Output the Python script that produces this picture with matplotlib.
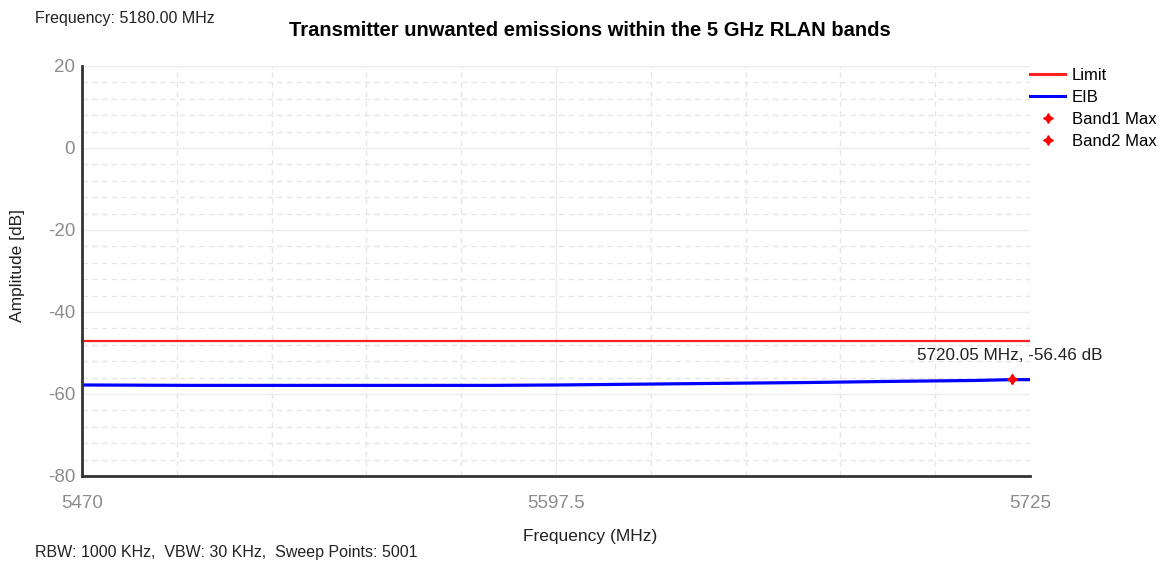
import numpy as np
import matplotlib
matplotlib.use("Agg")
from matplotlib import pyplot as plt
from matplotlib.ticker import FixedLocator

plt.rcParams['font.family'] = ['Liberation Sans', 'DejaVu Sans']
plt.rcParams['axes.unicode_minus'] = False

# data
freq_min, freq_max = 5470.0, 5725.0
amp_min, amp_max = -80, 20
limit_db = -47.0
eib_freq = [5470, 5500, 5530, 5555, 5580, 5598, 5620, 5642, 5665, 5690, 5710, 5720, 5725]
eib_db = [-57.8, -57.9, -57.9, -57.9, -57.9, -57.8, -57.6, -57.4, -57.2, -56.9, -56.7, -56.5, -56.5]
band1_max = (5720.05, -56.46)
band2_max = (5720.05, -56.46)
x_ticks = [5470, 5597.5, 5725]
y_ticks = [-80, -60, -40, -20, 0, 20]

fig = plt.figure(figsize=(11.65, 5.65), dpi=100)
ax = fig.add_axes([82 / 1165, 1 - 476 / 565, 948 / 1165, 410 / 565])

# grid: light solid majors, dashed minors
ax.xaxis.set_major_locator(FixedLocator(x_ticks))
ax.xaxis.set_minor_locator(FixedLocator(np.linspace(freq_min, freq_max, 11)))
ax.yaxis.set_major_locator(FixedLocator(y_ticks))
ax.yaxis.set_minor_locator(FixedLocator(np.arange(amp_min, amp_max + 1, 4)))
ax.grid(which='major', color='#ececec', lw=1.0, ls='-')
ax.grid(which='minor', color='#e6e6e6', lw=1.0, ls=(0, (4, 3)))
ax.set_axisbelow(True)

ax.plot([freq_min, freq_max], [limit_db, limit_db], color='#ff2020', lw=1.6,
        label='Limit')
ax.plot(eib_freq, eib_db, color='#0000ff', lw=2.3, label='EIB')
ax.plot(*band1_max, ls='none', marker=(4, 1, 0), ms=7, color='red',
        label='Band1 Max')
ax.plot(*band2_max, ls='none', marker=(4, 1, 0), ms=7, color='red',
        label='Band2 Max')
ax.annotate(f'{band2_max[0]:.2f} MHz, {band2_max[1]:.2f} dB',
            xy=band2_max, xytext=(-68, 17), textcoords='offset points',
            va='center', fontsize=12.3, color='#222222')

ax.set_xlim(freq_min, freq_max)
ax.set_ylim(amp_min, amp_max)
ax.set_xticklabels(['5470', '5597.5', '5725'])
ax.tick_params(which='both', length=0, labelsize=13.5, labelcolor='#8c8c8c')
ax.tick_params(axis='x', pad=14)
ax.tick_params(axis='y', pad=5)

for side in ['top', 'right']:
    ax.spines[side].set_visible(False)
for side in ['left', 'bottom']:
    ax.spines[side].set_color('#333333')
    ax.spines[side].set_linewidth(2.0)

leg = ax.legend(loc='upper left', bbox_to_anchor=(1.0, 0.995), frameon=False,
                fontsize=12, handlelength=2.1, handletextpad=0.4,
                labelspacing=0.42, borderaxespad=0.0, borderpad=0.0)
for line in leg.get_lines()[:2]:
    line.set_linewidth(2.2)

fig.text(590 / 1165, 1 - 30 / 565, 'Transmitter unwanted emissions within the 5 GHz RLAN bands',
         ha='center', va='center', fontsize=14.5, fontweight='bold')
fig.text(35 / 1165, 1 - 18 / 565, 'Frequency: 5180.00 MHz', ha='left', va='center',
         fontsize=11.5, color='#222222')
fig.text(590 / 1165, 1 - 537 / 565, 'Frequency (MHz)', ha='center', va='center',
         fontsize=12.5, color='#222222')
fig.text(18 / 1165, 1 - 265 / 565, 'Amplitude [dB]', ha='center', va='center',
         rotation=90, fontsize=12.5, color='#222222')
fig.text(35 / 1165, 1 - 553 / 565, 'RBW: 1000 KHz,  VBW: 30 KHz,  Sweep Points: 5001',
         ha='left', va='center', fontsize=11.5, color='#222222')

fig.savefig('out.png', dpi=100)
